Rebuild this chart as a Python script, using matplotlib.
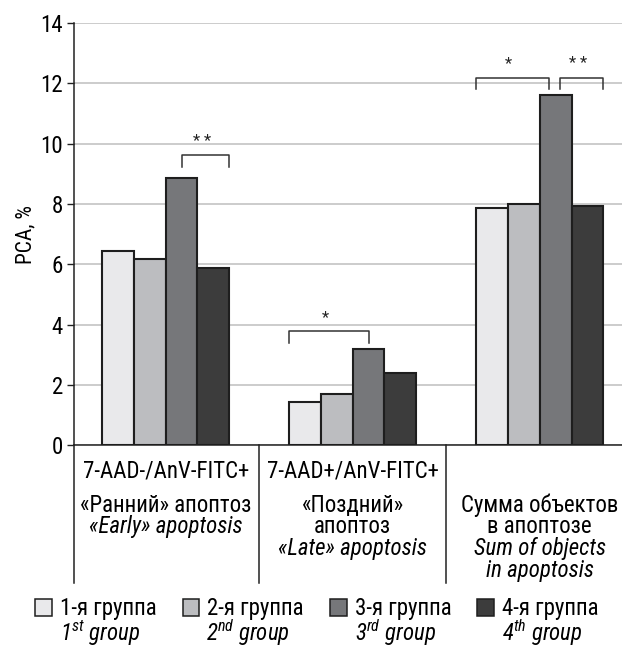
import numpy as np
import matplotlib
matplotlib.use("Agg")
import matplotlib.pyplot as plt
from matplotlib.patches import Patch

plt.rcParams['font.family'] = ['Roboto Condensed', 'Liberation Sans', 'DejaVu Sans']
plt.rcParams['mathtext.fontset'] = 'custom'
plt.rcParams['mathtext.rm'] = 'Roboto Condensed'
plt.rcParams['mathtext.it'] = 'Roboto Condensed:italic'

# data
groups_ru = ["1-я группа", "2-я группа", "3-я группа", "4-я группа"]
groups_en = ["1$^{st}$ group", "2$^{nd}$ group", "3$^{rd}$ group", "4$^{th}$ group"]
colors = ["#e9e9eb", "#bcbdc0", "#76777a", "#3c3c3c"]

early = [6.45, 6.17, 8.87, 5.87]
late = [1.43, 1.68, 3.2, 2.38]
total = [7.87, 8.0, 11.6, 7.93]
values = np.array([early, late, total])

cat_marker = ["7-AAD-/AnV-FITC+", "7-AAD+/AnV-FITC+", ""]
cat_ru = ["«Ранний» апоптоз", "«Поздний»\nапоптоз", "Сумма объектов\nв апоптозе"]
cat_en = ["«Early» apoptosis", "«Late» apoptosis", "Sum of objects\nin apoptosis"]

# significance: (category, left pos, right pos in bar units, top, label)
sig = [(0, 2.5, 4.0, 9.62, "* *"),
       (1, 0.0, 2.5, 3.78, "*"),
       (2, 0.0, 2.28, 12.19, "*"),
       (2, 2.64, 4.0, 12.19, "* *")]

fig = plt.figure(figsize=(6.22, 6.47), dpi=100)
ax = fig.add_axes([0.119, 0.312, 0.881, 0.6525])

w = 0.17
x = np.arange(3)
for i in range(4):
    ax.bar(x + (i - 1.5) * w, values[:, i], width=w, color=colors[i],
           edgecolor="#1e1e1e", linewidth=1.5, zorder=3)

ax.set_xlim(-0.49, 2.44)
ax.set_ylim(0, 14)
ax.set_yticks(range(0, 15, 2))
ax.yaxis.grid(True, color="#c8c8c8", linewidth=1.3, zorder=0)
ax.set_xticks([])
for s in ["top", "right"]:
    ax.spines[s].set_visible(False)
ax.spines["left"].set_color("#222222")
ax.spines["bottom"].set_color("#222222")
ax.spines["left"].set_linewidth(1.1)
ax.spines["bottom"].set_linewidth(1.1)
ax.tick_params(axis="y", length=5, width=1, labelsize=16.5, pad=3, color="#222222")
ax.set_ylabel("PCA, %", fontsize=15.5, labelpad=3)

# brackets
drop = 0.39
for cat, u0, u1, top, lab in sig:
    x0 = cat - 2 * w + u0 * w
    x1 = cat - 2 * w + u1 * w
    ax.plot([x0, x0, x1, x1], [top - drop, top, top, top - drop],
            color="#333333", linewidth=1.1, zorder=4)
    ax.text((x0 + x1) / 2 - 0.02, top + 0.45, lab, ha="center", va="center",
            fontsize=12, color="#222222")

# category labels below axis (baselines in axes fraction)
tr = ax.get_xaxis_transform()
baselines = [-0.0758, -0.159, -0.2085, -0.261, -0.313]
for xd in [-0.49, 0.5, 1.5]:
    ax.plot([xd, xd], [0, -0.327], transform=tr, clip_on=False,
            color="#222222", linewidth=1.1)
for i in range(3):
    lines = []
    if cat_marker[i]:
        lines.append((cat_marker[i], "normal"))
    else:
        lines.append(("", "normal"))
    lines += [(s, "normal") for s in cat_ru[i].split("\n")]
    lines += [(s, "italic") for s in cat_en[i].split("\n")]
    for k, (s, st) in enumerate(lines):
        if s:
            ax.text(x[i], baselines[k], s, transform=tr, ha="center",
                    va="baseline", fontsize=16.5, style=st)

handles = [Patch(facecolor=c, edgecolor="#1e1e1e", linewidth=1.1) for c in colors]
leg = fig.legend(handles, groups_ru, loc="center left",
                 bbox_to_anchor=(35 / 622, 1 - 609 / 647), ncol=4, frameon=False,
                 fontsize=16.5, handlelength=0.74, handleheight=0.74,
                 handletextpad=0.35, columnspacing=1.13, borderpad=0,
                 borderaxespad=0)
fig.canvas.draw()
for t, en in zip(leg.get_texts(), groups_en):
    bb = t.get_window_extent()
    fig.text(((bb.x0 + bb.x1) / 2 - 8) / fig.bbox.width, 5.5 / 647, en,
             ha="center", va="baseline", fontsize=16.5, style="italic")

fig.savefig("out.png", dpi=100)
